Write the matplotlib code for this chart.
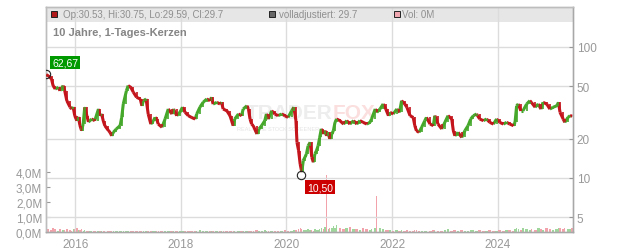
import numpy as np
import matplotlib
matplotlib.use("Agg")
import matplotlib.pyplot as plt
import matplotlib.dates as mdates
from matplotlib.patches import Rectangle
from matplotlib.collections import LineCollection
from datetime import datetime, timedelta

plt.rcParams['font.family'] = ['Liberation Sans', 'DejaVu Sans']

# price trace (decimal year, close)
years = [
    2015.45, 2015.49, 2015.55, 2015.58, 2015.62, 2015.68, 2015.71, 2015.77, 2015.80, 2015.84,
    2015.90, 2015.93, 2015.96, 2015.99, 2016.03, 2016.06, 2016.09, 2016.12, 2016.15, 2016.18,
    2016.22, 2016.25, 2016.28, 2016.31, 2016.37, 2016.44, 2016.47, 2016.50, 2016.53, 2016.56,
    2016.63, 2016.66, 2016.69, 2016.72, 2016.78, 2016.85, 2016.88, 2016.91, 2016.97, 2017.00,
    2017.05, 2017.10, 2017.16, 2017.23, 2017.26, 2017.29, 2017.34, 2017.38, 2017.43, 2017.48,
    2017.51, 2017.54, 2017.57, 2017.64, 2017.70, 2017.76, 2017.83, 2017.86, 2017.92, 2017.98,
    2018.03, 2018.08, 2018.14, 2018.20, 2018.27, 2018.30, 2018.36, 2018.42, 2018.49, 2018.55,
    2018.58, 2018.61, 2018.68, 2018.74, 2018.77, 2018.80, 2018.87, 2018.93, 2018.96, 2018.99,
    2019.02, 2019.09, 2019.15, 2019.18, 2019.25, 2019.28, 2019.31, 2019.34, 2019.37, 2019.44,
    2019.48, 2019.53, 2019.59, 2019.62, 2019.66, 2019.72, 2019.78, 2019.84, 2019.91, 2019.97,
    2020.03, 2020.10, 2020.14, 2020.18, 2020.20, 2020.23, 2020.26, 2020.29, 2020.32, 2020.35,
    2020.38, 2020.41, 2020.45, 2020.48, 2020.51, 2020.54, 2020.57, 2020.60, 2020.63, 2020.66,
    2020.70, 2020.73, 2020.76, 2020.79, 2020.82, 2020.86, 2020.89, 2020.92, 2020.95, 2021.01,
    2021.08, 2021.14, 2021.20, 2021.27, 2021.33, 2021.39, 2021.45, 2021.52, 2021.58, 2021.61,
    2021.68, 2021.71, 2021.77, 2021.83, 2021.88, 2021.93, 2021.96, 2022.02, 2022.09, 2022.14,
    2022.18, 2022.24, 2022.28, 2022.34, 2022.40, 2022.43, 2022.46, 2022.51, 2022.56, 2022.62,
    2022.65, 2022.72, 2022.78, 2022.81, 2022.87, 2022.94, 2023.00, 2023.06, 2023.13, 2023.16,
    2023.19, 2023.25, 2023.32, 2023.38, 2023.44, 2023.49, 2023.54, 2023.60, 2023.66, 2023.73,
    2023.79, 2023.85, 2023.92, 2023.98, 2024.04, 2024.11, 2024.17, 2024.23, 2024.30, 2024.33,
    2024.36, 2024.39, 2024.44, 2024.48, 2024.55, 2024.61, 2024.64, 2024.71, 2024.77, 2024.82,
    2024.86, 2024.93, 2024.99, 2025.05, 2025.12, 2025.15, 2025.18, 2025.24, 2025.27, 2025.33,
    2025.37, 2025.41,
]
closes = [
    61.4, 60.4, 57.0, 50.7, 47.8, 49.2, 46.4, 50.7, 46.4, 38.9,
    34.8, 33.6, 34.8, 29.9, 27.4, 29.2, 25.1, 23.0, 25.8, 34.7,
    29.9, 26.8, 27.4, 28.2, 27.4, 33.6, 29.9, 30.8, 27.4, 25.1,
    23.0, 22.3, 21.0, 22.3, 23.7, 25.1, 29.0, 36.7, 46.4, 50.7,
    49.2, 45.1, 41.3, 40.1, 35.6, 38.9, 40.1, 30.8, 25.8, 27.4,
    29.0, 28.2, 25.8, 24.4, 28.2, 33.6, 30.8, 33.6, 29.9, 31.7,
    34.7, 31.7, 29.9, 29.0, 28.2, 30.8, 34.7, 37.8, 40.1, 38.9,
    41.3, 36.7, 37.8, 36.7, 37.8, 33.6, 32.6, 29.9, 27.4, 25.1,
    28.2, 30.8, 29.9, 33.6, 35.6, 33.6, 28.2, 25.8, 25.1, 21.7,
    23.7, 25.1, 27.4, 30.8, 28.2, 32.6, 30.8, 29.9, 30.8, 29.9,
    29.0, 32.6, 34.7, 27.4, 18.7, 16.2, 12.8, 11.1, 13.6, 14.4,
    15.3, 17.6, 18.7, 14.4, 13.2, 15.3, 16.2, 17.6, 20.4, 23.7,
    21.7, 23.0, 21.0, 22.3, 19.9, 21.7, 23.0, 26.6, 28.2, 27.4,
    25.8, 27.4, 25.8, 27.4, 25.8, 27.4, 26.6, 25.8, 26.6, 28.2,
    33.6, 31.7, 33.6, 36.7, 33.6, 29.9, 31.7, 30.8, 33.6, 31.7,
    38.9, 36.7, 34.7, 29.9, 29.0, 25.1, 23.0, 22.3, 24.4, 27.4,
    29.0, 25.8, 25.1, 29.9, 25.8, 23.7, 26.6, 29.9, 28.2, 23.0,
    21.0, 22.3, 20.4, 23.0, 25.1, 28.2, 29.9, 30.8, 28.2, 27.4,
    28.2, 26.6, 25.8, 28.2, 26.6, 25.8, 26.6, 25.8, 25.1, 26.6,
    35.6, 36.7, 32.6, 32.6, 36.7, 38.9, 37.8, 34.7, 36.7, 33.6,
    37.8, 36.7, 33.6, 34.7, 35.6, 37.8, 31.7, 28.2, 26.6, 29.0,
    29.9, 29.7,
]
# volume in millions
volumes = [
    0.15, 0.20, 0.12, 0.25, 0.18, 0.10, 0.20, 0.15, 0.12, 0.22,
    0.15, 0.10, 0.18, 0.20, 0.25, 0.12, 0.15, 0.20, 0.10, 0.15,
    0.08, 0.10, 0.06, 0.08, 0.05, 0.10, 0.06, 0.05, 0.08, 0.06,
    0.05, 0.07, 0.05, 0.06, 0.04, 0.08, 0.06, 0.10, 0.08, 0.06,
    0.05, 0.07, 0.05, 0.04, 0.06, 0.05, 0.08, 0.06, 0.05, 0.04,
    0.05, 0.06, 0.04, 0.05, 0.07, 0.05, 0.04, 0.06, 0.05, 0.04,
    0.05, 0.04, 0.06, 0.05, 0.04, 0.05, 0.12, 0.06, 0.05, 0.04,
    0.06, 0.05, 0.04, 0.05, 0.06, 0.04, 0.05, 0.06, 0.04, 0.05,
    0.05, 0.04, 0.06, 0.05, 0.04, 0.05, 0.06, 0.08, 0.10, 0.12,
    0.08, 0.10, 0.12, 0.08, 0.10, 0.06, 0.08, 0.10, 0.07, 0.12,
    0.10, 0.08, 0.12, 0.15, 0.20, 0.18, 0.25, 0.20, 0.15, 0.12,
    0.15, 0.18, 0.12, 0.15, 0.10, 0.20, 0.15, 0.12, 0.18, 0.25,
    0.20, 0.35, 3.80, 0.20, 0.25, 0.30, 0.40, 0.25, 0.45, 0.30,
    0.20, 0.25, 0.35, 0.18, 0.20, 0.15, 0.25, 0.18, 0.15, 0.20,
    0.25, 2.40, 0.30, 0.20, 0.15, 0.12, 0.15, 0.10, 0.12, 0.08,
    0.15, 0.10, 0.12, 0.10, 0.08, 0.12, 0.15, 0.10, 0.08, 0.10,
    0.08, 0.10, 0.12, 0.08, 0.10, 0.08, 0.12, 0.18, 0.10, 0.12,
    0.15, 0.10, 0.12, 0.08, 0.10, 0.12, 0.15, 0.10, 0.12, 0.08,
    0.10, 0.12, 0.08, 0.10, 0.12, 0.10, 0.15, 0.12, 0.10, 0.20,
    0.30, 0.20, 0.15, 0.25, 0.18, 0.15, 0.20, 0.15, 0.25, 0.20,
    0.15, 0.30, 0.20, 0.15, 0.20, 0.25, 0.30, 0.20, 0.25, 0.18,
    0.20, 0.25,
]
high_point = (2015.45, 62.67)
low_point = (2020.28, 10.50)
price_ticks = [5, 10, 20, 50, 100]
vol_ticks = [0, 1, 2, 3, 4]


def to_date(y):
    yr = int(y)
    return datetime(yr, 1, 1) + timedelta(days=(y - yr) * 365.25)


x = mdates.date2num([to_date(y) for y in years])
c = np.array(closes)
o = np.r_[c[0], c[:-1]]
up = c >= o
step = np.diff(x, prepend=x[0] - (x[1] - x[0]))

GREEN = '#45a82b'
RED = '#c4141c'
GRID = '#dcdcdc'
TXT = '#999999'

fig = plt.figure(figsize=(6.32, 2.53), dpi=100)
ax = fig.add_axes([45.7 / 632, 20 / 253, 527 / 632, 225 / 253])
ax.set_axisbelow(True)

# header band
ax.add_patch(Rectangle((0, 0.933), 1, 0.067, transform=ax.transAxes,
                       facecolor='#e6e6e6', edgecolor='none', zorder=0))

# volume
vcol = np.where(up, '#9ed69b', '#f2a2aa')
ax.bar(x, volumes, width=step * 0.8, color=vcol, linewidth=0, zorder=2)
ax.set_ylim(0, 15)
ax.set_yticks(vol_ticks)
ax.set_yticklabels([f"{v:.1f}M".replace('.', ',') for v in vol_ticks])
ax.xaxis.set_major_locator(mdates.YearLocator(2))
ax.xaxis.set_major_formatter(mdates.DateFormatter('%Y'))
ax.set_xlim(mdates.date2num(to_date(2015.44)), mdates.date2num(to_date(2025.42)))
ax.xaxis.grid(True, color=GRID, linewidth=1)
ax.tick_params(axis='y', direction='in', length=2.6, color=TXT, labelcolor=TXT,
               labelsize=8.5, pad=2.5)
ax.tick_params(axis='x', length=0, labelcolor=TXT, labelsize=8.5, pad=4.5)

# price
axp = ax.twinx()
axp.set_axisbelow(True)
axp.set_yscale('log')
axp.set_ylim(3.87, 202)
axp.set_yticks(price_ticks)
axp.set_yticklabels([str(t) for t in price_ticks])
axp.yaxis.set_minor_locator(matplotlib.ticker.NullLocator())
axp.yaxis.grid(True, color=GRID, linewidth=1)
axp.tick_params(axis='y', direction='in', length=2.8, color=TXT, labelcolor=TXT,
                labelsize=8.5, pad=3)

axp.plot(x, c, color='#9a9a9a', linewidth=0.8, zorder=2)
segs = np.stack([np.column_stack([x - step, o]), np.column_stack([x, c])], axis=1)
axp.add_collection(LineCollection(segs, colors=np.where(up, GREEN, RED),
                                  linewidths=2.2, capstyle='butt', zorder=3))
lo = np.minimum(o, c)
hi = np.maximum(o, c)
axp.vlines(x, lo, hi, colors=np.where(up, GREEN, RED), linewidth=1.2, zorder=4)

for a in (ax, axp):
    for s in a.spines.values():
        s.set_color('#bdbdbd')
        s.set_linewidth(1)
axp.spines['right'].set_color('#a8a8a8')
axp.spines['bottom'].set_color('#a8a8a8')

# watermark
axp.text(0.545, 0.529, 'TRADER', transform=axp.transAxes, ha='right', va='center',
         fontsize=15, fontweight='bold', color='#ededed', zorder=1)
axp.text(0.545, 0.529, 'FOX', transform=axp.transAxes, ha='left', va='center',
         fontsize=15, fontweight='bold', color='#fbdfdf', zorder=1)
axp.text(0.44, 0.462, 'REAL-TIME STOCK SCREENER', transform=axp.transAxes, ha='center',
         va='center', fontsize=4, color='#e4e4e4', zorder=1)

# min / max markers
for (yy, val), dx, dy, col in ((high_point, 19, 11, '#009a00'), (low_point, 18.5, -12, '#cc0000')):
    px = mdates.date2num(to_date(yy))
    axp.plot([px], [val], marker='o', ms=6, mfc='none', mec='#222222', mew=0.8, zorder=5)
    axp.annotate(f"{val:.2f}".replace('.', ','), (px, val), xytext=(dx, dy),
                 textcoords='offset pixels', ha='center', va='center', color='white',
                 fontsize=7.5, zorder=6,
                 bbox=dict(boxstyle='square,pad=0.18', facecolor=col, edgecolor='none'))

# header texts
hy = 0.9667
for sx, fc, tx, txt in ((0.0152, '#b01a1a', 0.0323, 'Op:30.53, Hi:30.75, Lo:29.59, Cl:29.7'),
                        (0.4294, '#666666', 0.4433, 'volladjustiert: 29.7'),
                        (0.666, '#f0a6ae', 0.6767, 'Vol: 0M')):
    axp.plot([sx], [hy], marker='s', ms=4.6, mfc=fc, mec='#222222', mew=0.7,
             transform=axp.transAxes, clip_on=False, zorder=6)
    axp.text(tx, hy, txt, transform=axp.transAxes, ha='left', va='center',
             fontsize=7, color='#8f8f8f', zorder=6)
axp.text(0.0144, 0.8876, '10 Jahre, 1-Tages-Kerzen', transform=axp.transAxes,
         ha='left', va='center', fontsize=8, fontweight='bold', color='#858585', zorder=6)

fig.savefig('out.png', dpi=100, facecolor='white')
